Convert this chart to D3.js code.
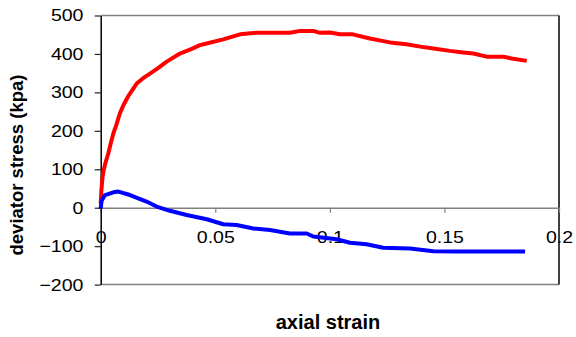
<!DOCTYPE html>
<html>
<head>
<meta charset="utf-8">
<script src="https://cdn.jsdelivr.net/npm/d3@7"></script>
<style>
  body { margin: 0; background: #fff; }
  text { font-family: Arial, "Liberation Sans", sans-serif; }
</style>
</head>
<body>
<svg></svg>
<script>
// данные: девиаторное напряжение (кПа) от осевой деформации
const redStrain = [0, 0.0003, 0.0008, 0.0013, 0.002, 0.0033, 0.0045, 0.0055, 0.0068, 0.0084,
  0.010, 0.012, 0.014, 0.0157, 0.0185, 0.0215, 0.025, 0.0288, 0.0346, 0.040,
  0.0433, 0.0462, 0.0535, 0.0608, 0.068, 0.0826, 0.087, 0.0928, 0.0957, 0.100,
  0.1044, 0.110, 0.1175, 0.1262, 0.1335, 0.1394, 0.1452, 0.1524, 0.1582, 0.1626,
  0.1684, 0.1757, 0.1794, 0.1859];
const redStress = [10, 45, 80, 98, 115, 141, 170, 193, 215, 246,
  268, 290, 308, 323, 337, 349, 363, 380, 401, 414,
  423, 427, 438, 451, 455, 455, 460, 460, 455, 456,
  451, 451, 440, 430, 425, 419, 414, 408, 404, 401,
  393, 393, 388, 382];

const blueStrain = [0, 0.0004, 0.0019, 0.0055, 0.0077, 0.0128, 0.020, 0.0244, 0.0302, 0.0375,
  0.0463, 0.0535, 0.0593, 0.0666, 0.0739, 0.0826, 0.0899, 0.0928, 0.103, 0.1088,
  0.116, 0.1233, 0.135, 0.1452, 0.155, 0.1852];
const blueStress = [-2, 18, 33, 40, 42, 33, 16, 3, -8, -19,
  -30, -43, -45, -54, -58, -67, -67, -75, -82, -91,
  -95, -104, -106, -113, -114, -114];

const xTicks = [0, 0.05, 0.1, 0.15, 0.2];
const yTicks = [-200, -100, 0, 100, 200, 300, 400, 500];

//инициализация svg элемента
const width = 576;
const height = 337;
let svg = d3.select("svg")
  .attr("width", width)
  .attr("height", height);

let x = d3.scaleLinear().domain([0, 0.2]).range([100.7, 559]);
let y = d3.scaleLinear().domain([-200, 500]).range([284.6, 15.5]);

// рамка области графика
svg.append("line")
  .attr("x1", x(0)).attr("x2", x(0.2))
  .attr("y1", y(500)).attr("y2", y(500))
  .style("stroke", "#808080").style("stroke-width", 1.5);
svg.append("line")
  .attr("x1", x(0)).attr("x2", x(0.2))
  .attr("y1", y(-200)).attr("y2", y(-200))
  .style("stroke", "#808080").style("stroke-width", 1.5);
svg.append("line")
  .attr("x1", x(0.2)).attr("x2", x(0.2))
  .attr("y1", y(500)).attr("y2", y(-200))
  .style("stroke", "#000").style("stroke-width", 1.5);

// ось X проходит через ноль
let xAxis = svg.append("g")
  .attr("transform", `translate(0, ${y(0)})`)
  .call(d3.axisBottom(x).tickValues(xTicks).tickSize(5).tickSizeOuter(0).tickPadding(18)
    .tickFormat(d => d === 0 ? "0" : String(d)));
xAxis.select(".domain").style("stroke", "#808080").style("stroke-width", 1.5);
xAxis.selectAll(".tick line").style("stroke", "#808080").style("stroke-width", 1.2);
xAxis.selectAll("text")
  .attr("transform", "scale(1.15,1)")
  .style("font-size", "17px").style("fill", "#000");

// ось Y
let yAxis = svg.append("g")
  .attr("transform", `translate(${x(0)}, 0)`)
  .call(d3.axisLeft(y).tickValues(yTicks).tickSize(6).tickSizeOuter(0).tickPadding(9)
);
yAxis.select(".domain").style("stroke", "#000").style("stroke-width", 1.5);
yAxis.selectAll(".tick line").style("stroke", "#222").style("stroke-width", 1.2);
yAxis.selectAll("text")
  .attr("transform", "scale(1.15,1)")
  .style("font-size", "17px").style("fill", "#000");

// кривые
const line = d3.line()
  .x(d => x(d[0]))
  .y(d => y(d[1]));

svg.append("path")
  .attr("d", line(d3.zip(redStrain, redStress)))
  .style("fill", "none")
  .style("stroke", "#ff0000")
  .style("stroke-width", 4)
  .style("stroke-linejoin", "round");

svg.append("path")
  .attr("d", line(d3.zip(blueStrain, blueStress)))
  .style("fill", "none")
  .style("stroke", "#0000ff")
  .style("stroke-width", 4)
  .style("stroke-linejoin", "round");

// подписи осей
svg.append("text")
  .attr("x", 328)
  .attr("y", 329)
  .attr("text-anchor", "middle")
  .style("font-size", "20px")
  .style("font-weight", "bold")
  .text("axial strain");

svg.append("text")
  .attr("transform", "translate(23, 165) rotate(-90)")
  .attr("text-anchor", "middle")
  .style("font-size", "18.5px")
  .style("font-weight", "bold")
  .text("deviator stress (kpa)");
</script>
</body>
</html>
